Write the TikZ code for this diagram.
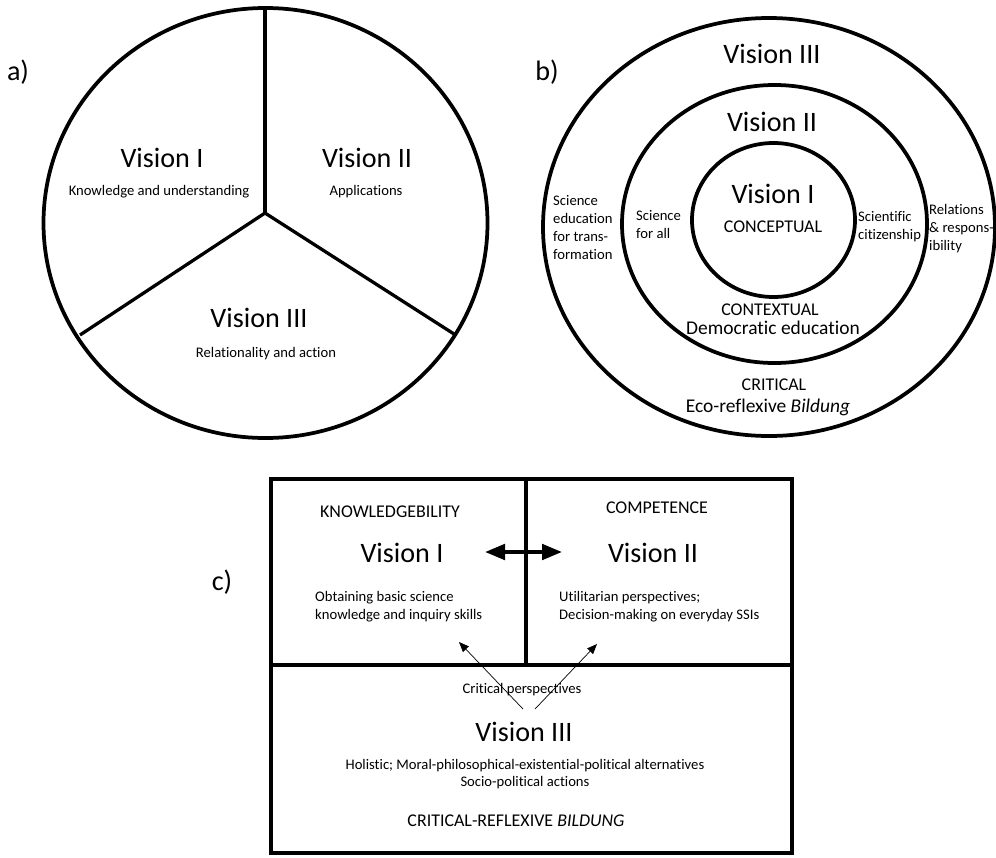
\documentclass[tikz,border=0pt]{standalone}
\usepackage{fontspec}
\setmainfont{Carlito}[Ligatures=NoCommon]
\usetikzlibrary{arrows.meta}

\newcommand{\visfont}{\fontsize{24}{28}\selectfont}
\newcommand{\capfont}{\fontsize{15.3}{18}\selectfont}
\newcommand{\midfont}{\fontsize{16.6}{19}\selectfont}
\newcommand{\smallfont}{\fontsize{12.5}{15.3}\selectfont}

\tikzset{
  ring/.style={line width=3.2pt},
  spoke/.style={line width=2.8pt},
  lbl/.style={inner sep=0pt,anchor=base},
  vis/.style={lbl,font=\visfont},
  capt/.style={lbl,font=\capfont},
  mid/.style={lbl,font=\midfont},
  note/.style={lbl,font=\smallfont},
  block/.style={inner sep=0pt,anchor=base west,align=left,font=\smallfont},
  duplex/.style={line width=3.4pt,{Triangle[length=6mm,width=4.6mm]}-{Triangle[length=6mm,width=4.6mm]}},
  hint/.style={line width=.6pt,-{Triangle[length=3mm,width=2.4mm]}}
}

\begin{document}
\begin{tikzpicture}[x=.03cm,y=-.03cm]
\useasboundingbox (0,0) rectangle (996,857);

% a) three sectors
\node[vis] (alab) at (18,80) {a)};
\coordinate (hub) at (265,213);
\coordinate (atop) at (265,8);
\coordinate (aleft) at (80,335);
\coordinate (aright) at (454,334);
\draw[ring] (265.5,223) ellipse [x radius=6.66cm,y radius=6.45cm];
\draw[spoke] (atop) -- (hub);
\draw[spoke] (aleft) -- (hub) -- (aright);
\node[vis] (aone) at (162,167) {Vision I};
\node[note] (aonet) at (159,195) {Knowledge and understanding};
\node[vis] (atwo) at (367,167) {Vision II};
\node[note] (atwot) at (366,195) {Applications};
\node[vis] (athree) at (259,327) {Vision III};
\node[note] (athreet) at (266,357) {Relationality and action};

% b) nested rings
\node[vis] (blab) at (547,80) {b)};
\draw[ring] (769,227) ellipse [x radius=6.78cm,y radius=6.27cm];
\draw[ring] (774.5,224) ellipse [x radius=4.575cm,y radius=4.17cm];
\draw[ring] (773.5,220) ellipse [x radius=2.445cm,y radius=2.31cm];
\node[vis] (bthree) at (772,63) {Vision III};
\node[vis] (btwo) at (772,131) {Vision II};
\node[vis] (bone) at (773,203) {Vision I};
\node[capt] (bconc) at (773,232) {CONCEPTUAL};
\node[capt] (bcont) at (770,315) {CONTEXTUAL};
\node[mid] (bdemo) at (773,334) {Democratic education};
\node[capt] (bcrit) at (774,390) {CRITICAL};
\node[mid] (beco) at (768,412) {Eco-reflexive \textit{Bildung}};
% block nodes sit on the baseline of their last line
\node[block] (btrans) at (553,259) {Science\\education\\for trans-\\formation};
\node[block] (ball) at (636,238) {Science\\for all};
\node[block] (bciti) at (858,239) {Scientific\\citizenship};
\node[block] (brel) at (929,250) {Relations\\\& respons-\\ibility};

% c) boxes
\node[vis] (clab) at (222,590) {c)};
\coordinate (cnw) at (271,479);
\coordinate (cse) at (792,853);
\coordinate (cwest) at (271,665);
\coordinate (ceast) at (792,665);
\coordinate (cnorth) at (526,479);
\coordinate (ccross) at (526,665);
\draw[ring] (cnw) rectangle (cse);
\draw[ring] (cwest) -- (ceast);
\draw[ring] (cnorth) -- (ccross);
\node[capt] (know) at (390,517) {KNOWLEDGEBILITY};
\node[capt] (comp) at (657,513) {COMPETENCE};
\node[vis] (cone) at (402,562) {Vision I};
\node[vis] (ctwo) at (653,562) {Vision II};
\node[block] (conet) at (315,619) {Obtaining basic science\\knowledge and inquiry skills};
\node[block] (ctwot) at (559,619) {Utilitarian perspectives;\\Decision-making on everyday SSIs};
\node[note] (cpersp) at (522,693) {Critical perspectives};
\node[vis] (cthree) at (524,741) {Vision III};
\node[note] (cholo) at (525,769) {Holistic; Moral-philosophical-existential-political alternatives};
\node[note] (csocio) at (525,786) {Socio-political actions};
\node[capt] (cbild) at (516,826) {CRITICAL-REFLEXIVE \textit{BILDUNG}};
\coordinate (dl) at (485,552);
\coordinate (dr) at (562,552);
\draw[duplex] (dl) -- (dr);
\coordinate (tl) at (523,709);
\coordinate (hl) at (459,642);
\coordinate (tr) at (535,709);
\coordinate (hr) at (597,644);
\draw[hint] (tl) -- (hl);
\draw[hint] (tr) -- (hr);
\end{tikzpicture}
\end{document}
